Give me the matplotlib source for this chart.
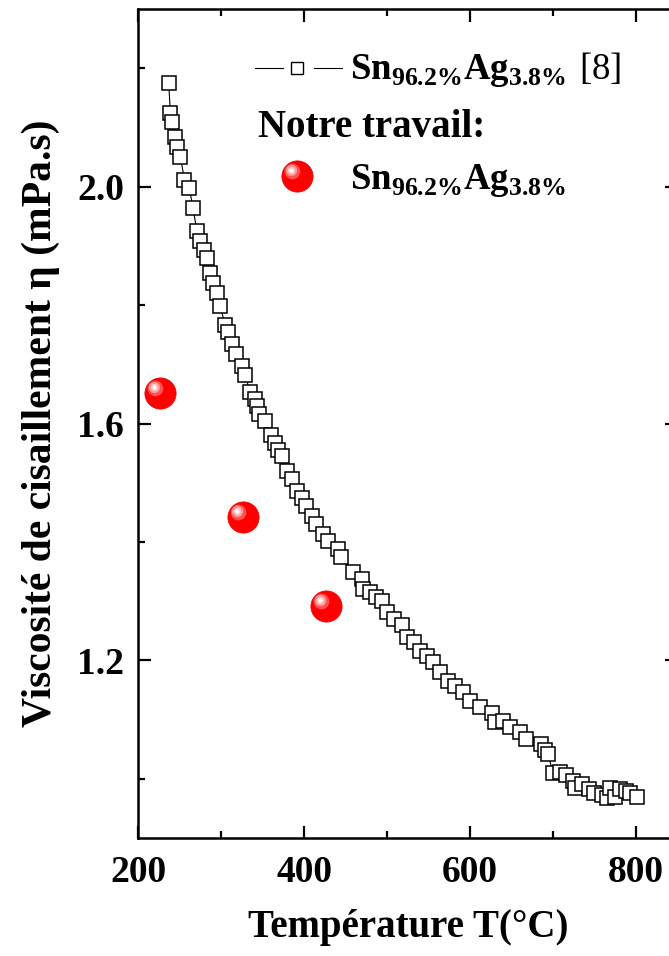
import numpy as np
import matplotlib
matplotlib.use('Agg')
import matplotlib.pyplot as plt
from matplotlib.ticker import MultipleLocator, FormatStrFormatter
from matplotlib.transforms import offset_copy

plt.rcParams['font.family'] = ['Liberation Serif', 'DejaVu Serif']
plt.rcParams['mathtext.fontset'] = 'custom'
plt.rcParams['mathtext.rm'] = 'Liberation Serif'
plt.rcParams['mathtext.bf'] = 'Liberation Serif:bold'

# Données de référence [8] (Sn96.2Ag3.8)
temp_ref = [237, 239, 241, 244, 247, 251, 256, 262, 266, 271, 275, 279, 283, 287,
            290, 295, 299, 305, 308, 313, 318, 325, 329, 335, 341, 343, 346, 353,
            360, 365, 369, 373, 379, 385, 391, 397, 402, 410, 414, 423, 429, 441,
            445, 459, 470, 471, 480, 487, 494, 500, 508, 518, 524, 532, 540, 548,
            556, 564, 574, 582, 592, 600, 612, 626, 630, 640, 648, 660, 668, 686,
            690, 694, 700, 708, 716, 724, 726, 735, 743, 749, 759, 765, 769, 775,
            781, 788, 793, 801]
eta_ref = [2.175, 2.124, 2.110, 2.085, 2.067, 2.051, 2.012, 1.998, 1.965, 1.926,
           1.908, 1.894, 1.880, 1.854, 1.838, 1.821, 1.798, 1.767, 1.754, 1.735,
           1.718, 1.697, 1.683, 1.653, 1.641, 1.630, 1.616, 1.604, 1.580, 1.568,
           1.556, 1.545, 1.520, 1.506, 1.486, 1.475, 1.461, 1.444, 1.430, 1.413,
           1.402, 1.388, 1.374, 1.349, 1.337, 1.320, 1.315, 1.307, 1.301, 1.281,
           1.270, 1.260, 1.239, 1.231, 1.216, 1.208, 1.197, 1.181, 1.166, 1.157,
           1.146, 1.132, 1.121, 1.112, 1.096, 1.098, 1.087, 1.079, 1.067, 1.059,
           1.048, 1.042, 1.010, 1.011, 1.006, 0.997, 0.985, 0.991, 0.982, 0.976,
           0.972, 0.967, 0.985, 0.970, 0.982, 0.979, 0.976, 0.970]

# Notre travail
temp_nous = [227, 327, 427]
eta_nous = [1.652, 1.442, 1.292]

fig = plt.figure(figsize=(6.69, 9.56), dpi=100)
ax = fig.add_axes([0.2063, 0.1234, 0.8064, 0.8669])

ax.plot(temp_ref, eta_ref, '-', color='black', lw=0.8, marker='s', ms=9.5,
        mfc='white', mec='black', mew=1.1)


def sphere(ax, x, y, size, transform=None):
    # Bille rouge avec reflet
    tr = transform if transform is not None else ax.transData
    ax.plot(x, y, 'o', ms=size, color='#ff0000', mec='#f00000', mew=0.5,
            transform=tr, clip_on=False, zorder=5)
    for s, c, d in [(0.5, '#ff5050', 0.16), (0.36, '#ff9a9a', 0.19),
                    (0.22, '#ffd5d5', 0.2), (0.1, '#ffffff', 0.2)]:
        off = offset_copy(tr, fig=fig, x=-size * d, y=size * d, units='points')
        ax.plot(x, y, 'o', ms=size * s, color=c, mew=0, transform=off,
                clip_on=False, zorder=6)


sphere(ax, temp_nous, eta_nous, 22.5)

ax.set_xlim(200, 850)
ax.set_ylim(0.9, 2.3)
ax.xaxis.set_major_locator(MultipleLocator(200))
ax.xaxis.set_minor_locator(MultipleLocator(100))
ax.yaxis.set_major_locator(MultipleLocator(0.4))
ax.yaxis.set_minor_locator(MultipleLocator(0.2))
ax.yaxis.set_major_formatter(FormatStrFormatter('%.1f'))
ax.tick_params(which='both', direction='in', top=True, right=True, width=1.6,
               labelsize=27)
ax.tick_params(which='major', length=9)
ax.tick_params(which='minor', length=5)
ax.tick_params(axis='x', pad=12)
ax.tick_params(axis='y', pad=10)
for lab in ax.get_xticklabels() + ax.get_yticklabels():
    lab.set_fontweight('bold')
for sp in ax.spines.values():
    sp.set_linewidth(1.8)

ax.set_xlabel('Température T(°C)', fontsize=28, fontweight='bold', labelpad=14)
ax.set_ylabel('Viscosité de cisaillement η (mPa.s)', fontsize=30,
              fontweight='bold', labelpad=12)

# Légende
ta = ax.transAxes
ax.plot([0.217, 0.269], [0.929, 0.929], color='black', lw=0.8, transform=ta)
ax.plot([0.327, 0.378], [0.929, 0.929], color='black', lw=0.8, transform=ta)
ax.plot([0.294], [0.929], 's', ms=9, mfc='white', mec='black', mew=1.0,
        transform=ta)
ax.text(0.393, 0.927,
        r'$\mathbf{Sn}_{\mathbf{96.2\%}}\mathbf{Ag}_{\mathbf{3.8\%}}\ \mathrm{[8]}$',
        transform=ta, fontsize=26.5, va='center', ha='left')
ax.text(0.222, 0.857, 'Notre travail:', transform=ta, fontsize=28,
        fontweight='bold', va='center', ha='left')
sphere(ax, [0.295], [0.799], 22.5, transform=ta)
ax.text(0.393, 0.793,
        r'$\mathbf{Sn}_{\mathbf{96.2\%}}\mathbf{Ag}_{\mathbf{3.8\%}}$',
        transform=ta, fontsize=26.5, va='center', ha='left')

fig.savefig('out.png', dpi=100)
